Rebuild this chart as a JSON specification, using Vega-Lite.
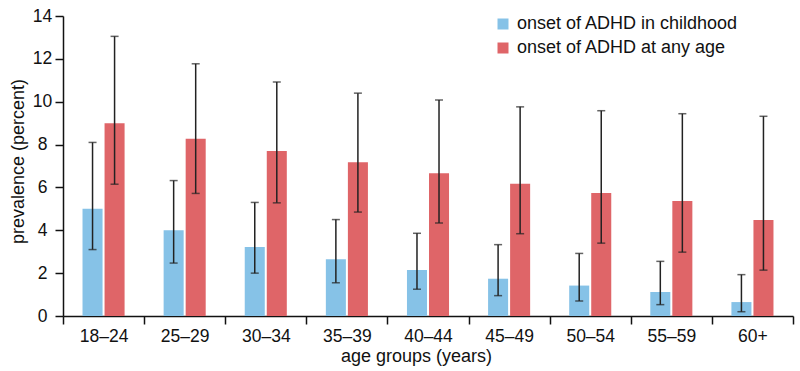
{
  "$schema": "https://vega.github.io/schema/vega-lite/v6.json",
  "width": 730,
  "height": 300,
  "autosize": {"type": "none"},
  "padding": {"left": 63, "top": 16, "right": 7, "bottom": 55},
  "background": "white",
  "config": {
    "view": {"stroke": null},
    "font": "Liberation Sans",
    "axis": {"grid": false, "domainColor": "#111", "tickColor": "#111", "labelColor": "#111", "titleColor": "#111", "domainWidth": 1.5, "tickWidth": 1.5, "labelFontSize": 17.5, "titleFontSize": 18, "titleFontWeight": "normal", "tickSize": 8}
  },
  "data": {
    "values": [
      {"age": "18–24", "group": "onset of ADHD in childhood", "value": 5.0, "lo": 3.1, "hi": 8.1},
      {"age": "18–24", "group": "onset of ADHD at any age", "value": 9.0, "lo": 6.15, "hi": 13.05},
      {"age": "25–29", "group": "onset of ADHD in childhood", "value": 4.0, "lo": 2.47, "hi": 6.32},
      {"age": "25–29", "group": "onset of ADHD at any age", "value": 8.27, "lo": 5.72, "hi": 11.77},
      {"age": "30–34", "group": "onset of ADHD in childhood", "value": 3.22, "lo": 2.0, "hi": 5.3},
      {"age": "30–34", "group": "onset of ADHD at any age", "value": 7.7, "lo": 5.28, "hi": 10.92},
      {"age": "35–39", "group": "onset of ADHD in childhood", "value": 2.65, "lo": 1.55, "hi": 4.5},
      {"age": "35–39", "group": "onset of ADHD at any age", "value": 7.17, "lo": 4.85, "hi": 10.4},
      {"age": "40–44", "group": "onset of ADHD in childhood", "value": 2.15, "lo": 1.25, "hi": 3.86},
      {"age": "40–44", "group": "onset of ADHD at any age", "value": 6.66, "lo": 4.34, "hi": 10.08},
      {"age": "45–49", "group": "onset of ADHD in childhood", "value": 1.74, "lo": 0.95, "hi": 3.33},
      {"age": "45–49", "group": "onset of ADHD at any age", "value": 6.17, "lo": 3.84, "hi": 9.76},
      {"age": "50–54", "group": "onset of ADHD in childhood", "value": 1.42, "lo": 0.7, "hi": 2.92},
      {"age": "50–54", "group": "onset of ADHD at any age", "value": 5.74, "lo": 3.4, "hi": 9.58},
      {"age": "55–59", "group": "onset of ADHD in childhood", "value": 1.12, "lo": 0.53, "hi": 2.55},
      {"age": "55–59", "group": "onset of ADHD at any age", "value": 5.37, "lo": 2.98, "hi": 9.44},
      {"age": "60+", "group": "onset of ADHD in childhood", "value": 0.65, "lo": 0.2, "hi": 1.93},
      {"age": "60+", "group": "onset of ADHD at any age", "value": 4.48, "lo": 2.14, "hi": 9.32}
    ]
  },
  "encoding": {
    "x": {
      "field": "age", "type": "nominal", "sort": null,
      "scale": {"paddingInner": 0, "paddingOuter": 0},
      "axis": {"title": "age groups (years)", "labelAngle": 0, "tickBand": "extent", "labelPadding": 3, "titlePadding": 3, "titleX": 353}
    },
    "xOffset": {
      "field": "group", "type": "nominal",
      "sort": ["onset of ADHD in childhood", "onset of ADHD at any age"],
      "scale": {"paddingInner": 0.0909, "paddingOuter": 0.886}
    }
  },
  "layer": [
    {
      "mark": {"type": "bar"},
      "encoding": {
        "y": {
          "field": "value", "type": "quantitative",
          "scale": {"domain": [0, 14], "nice": false},
          "axis": {"title": "prevalence (percent)", "values": [0, 2, 4, 6, 8, 10, 12, 14], "labelAlign": "center", "labelPadding": 13, "titlePadding": 5, "titleY": 145}
        },
        "color": {
          "field": "group", "type": "nominal",
          "sort": ["onset of ADHD in childhood", "onset of ADHD at any age"],
          "scale": {"range": ["#86c2e7", "#df6568"]},
          "legend": {"title": null, "orient": "none", "legendX": 431, "legendY": -1, "symbolType": "square", "symbolSize": 121, "symbolStrokeWidth": 0, "symbolOpacity": 1, "labelFontSize": 18, "labelColor": "#111", "labelOffset": 5, "rowPadding": 6, "labelLimit": 400}
        }
      }
    },
    {
      "mark": {"type": "rule", "color": "#222", "strokeWidth": 1.5},
      "encoding": {
        "y": {"field": "lo", "type": "quantitative"},
        "y2": {"field": "hi"}
      }
    },
    {
      "mark": {"type": "tick", "orient": "horizontal", "color": "#222", "size": 8, "thickness": 1.5},
      "encoding": {
        "y": {"field": "lo", "type": "quantitative"}
      }
    },
    {
      "mark": {"type": "tick", "orient": "horizontal", "color": "#222", "size": 8, "thickness": 1.5},
      "encoding": {
        "y": {"field": "hi", "type": "quantitative"}
      }
    }
  ]
}
